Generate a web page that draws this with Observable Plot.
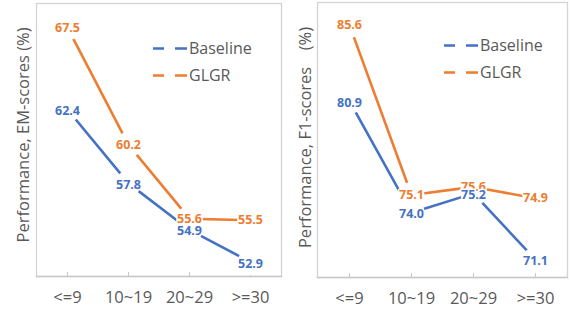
<!DOCTYPE html>
<html>
<head>
<meta charset="utf-8">
<script src="https://cdn.jsdelivr.net/npm/d3@7"></script>
<script src="https://cdn.jsdelivr.net/npm/@observablehq/plot@0.6"></script>
<style>
  html, body { margin: 0; padding: 0; background: #fff; }
  #wrap { position: relative; width: 572px; height: 315px; display: flex; overflow: hidden; }
  #wrap > div.panel { position: relative; width: 286px; height: 315px; }
  .legend-item { position: absolute; display: flex; align-items: center; height: 20px;
    font-family: "Open Sans", sans-serif; font-size: 16px; color: #595959; line-height: 20px; white-space: nowrap; }
  .legend-item svg { display: block; margin-right: 2px; }
</style>
</head>
<body>
<div id="wrap"></div>
<script>
// ---- data ----
const categories = ["<=9", "10~19", "20~29", ">=30"];
const seriesNames = ["Baseline", "GLGR"];
const seriesColors = ["#4472C4", "#ED7D31"];
const emBaseline = [62.4, 57.8, 54.9, 52.9];
const emGLGR = [67.5, 60.2, 55.6, 55.5];
const f1Baseline = [80.9, 74.0, 75.2, 71.1];
const f1GLGR = [85.6, 75.1, 75.6, 74.9];
const emLabel = "Performance, EM-scores (%)";
const f1Label = "Performance, F1-scores\u3000(%)";
const emDomain = [52, 69];
const f1Domain = [70, 87];

const FONT = "'Open Sans', 'Noto Sans CJK SC', sans-serif";

function rowsFor(base, glgr) {
  const rows = [];
  [base, glgr].forEach((vals, s) => {
    vals.forEach((v, i) => rows.push({cat: categories[i], value: v, series: seriesNames[s]}));
  });
  return rows;
}

function panel(opts) {
  const rows = rowsFor(opts.base, opts.glgr);
  const height = 315;
  const innerH = height - opts.mt - opts.mb;
  const chart = Plot.plot({
    width: 286,
    height,
    marginTop: opts.mt,
    marginBottom: opts.mb,
    marginLeft: opts.ml,
    marginRight: opts.mr,
    style: {fontFamily: FONT, color: "#595959", background: "transparent", overflow: "visible"},
    x: {type: "point", domain: categories, padding: 0.5, axis: null, label: null},
    y: {domain: opts.yDomain, axis: null, label: null},
    color: {domain: seriesNames, range: seriesColors},
    marks: [
      Plot.frame({stroke: "#d4d4d4", strokeWidth: 1.3}),
      Plot.tickX(categories, {x: d => d, stroke: "#c8c8c8", insetTop: innerH - 4}),
      Plot.line(rows, {x: "cat", y: "value", z: "series", stroke: "series", strokeWidth: 2.6}),
      Plot.dot(rows, {x: "cat", y: "value", r: 13, fill: "white", stroke: null}),
      Plot.frame({anchor: "bottom", stroke: "#c8c8c8", strokeWidth: 1.3}),
      Plot.axisX({tickSize: 0, tickPadding: 15, fontSize: 16.5, fill: "#595959", fontFamily: FONT, label: null}),
      Plot.text(rows.filter(d => d.series === "GLGR"), {
        x: "cat", y: "value", text: d => d.value.toFixed(1), fill: "series",
        stroke: "white", strokeWidth: 3, paintOrder: "stroke", strokeLinejoin: "round",
        fontWeight: "bold", fontSize: 12.5, fontFamily: FONT
      }),
      Plot.text(rows.filter(d => d.series === "Baseline"), {
        x: "cat", y: "value", text: d => d.value.toFixed(1), fill: "series", dy: 1.5,
        stroke: "white", strokeWidth: 3, paintOrder: "stroke", strokeLinejoin: "round",
        fontWeight: "bold", fontSize: 12.5, fontFamily: FONT
      }),
      Plot.text([opts.yLabel], {
        text: d => d, frameAnchor: "left", textAnchor: "middle", rotate: -90, dx: opts.labelDx, dy: opts.labelDy,
        fontSize: 16.5, fill: "#595959", fontFamily: FONT
      })
    ]
  });
  const div = document.createElement("div");
  div.className = "panel";
  div.appendChild(chart);
  // legend (inside the plot area, top right)
  seriesNames.forEach((name, i) => {
    const item = document.createElement("div");
    item.className = "legend-item";
    item.style.left = opts.legendLeft + "px";
    item.style.top = (opts.legendTop + i * 27) + "px";
    const ns = "http://www.w3.org/2000/svg";
    const svg = document.createElementNS(ns, "svg");
    svg.setAttribute("width", 34);
    svg.setAttribute("height", 20);
    const ln = document.createElementNS(ns, "line");
    ln.setAttribute("x1", 0); ln.setAttribute("x2", 34);
    ln.setAttribute("y1", 10.5); ln.setAttribute("y2", 10.5);
    ln.setAttribute("stroke", seriesColors[i]);
    ln.setAttribute("stroke-width", 2.6);
    ln.setAttribute("stroke-dasharray", "11 11 12");
    svg.appendChild(ln);
    item.appendChild(svg);
    const span = document.createElement("span");
    span.textContent = name;
    item.appendChild(span);
    div.appendChild(item);
  });
  return div;
}

const wrap = document.getElementById("wrap");
wrap.appendChild(panel({
  base: emBaseline, glgr: emGLGR, yDomain: emDomain, yLabel: emLabel,
  mt: 3, mb: 39, ml: 36, mr: 5, labelDx: -13, labelDy: -5,
  legendLeft: 153, legendTop: 38
}));
wrap.appendChild(panel({
  base: f1Baseline, glgr: f1GLGR, yDomain: f1Domain, yLabel: f1Label,
  mt: 2, mb: 38, ml: 31, mr: 5, labelDx: -12, labelDy: -2.5,
  legendLeft: 444 - 286, legendTop: 35
}));
</script>
</body>
</html>
